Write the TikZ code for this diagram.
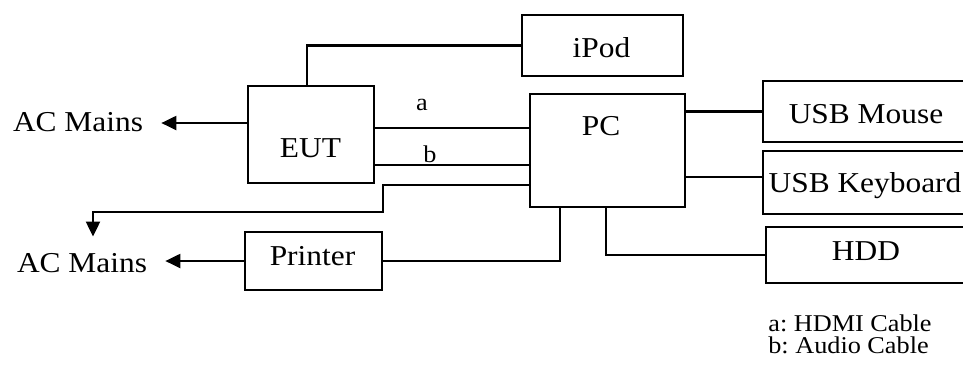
\documentclass[tikz,border=0pt]{standalone}
\usepackage{fontspec}
\setmainfont[FakeStretch=1.09]{Liberation Serif}
\usetikzlibrary{calc, positioning, arrows.meta}
\frenchspacing

\begin{document}
\begin{tikzpicture}
                      [x=0.02cm, y=-0.02cm, text centered,
                       font=\fontsize{16.4pt}{19pt}\selectfont,
                       box/.style={draw, line width=1.4pt, inner sep=0pt},
                       wire/.style={line width=1.2pt},
                       feed/.style={wire, -{Triangle[length=0.3cm, width=0.28cm]}},
                       tag/.style={anchor=base, inner sep=0pt},
                       mains/.style={anchor=base, inner xsep=0.36cm, inner ysep=0.32cm},
                       note/.style={anchor=base west, inner sep=0pt, font=\fontsize{13.7pt}{16pt}\selectfont}]
                      \useasboundingbox (0,0) rectangle (963,370);
                      \clip (0,0) rectangle (963,370);

                      % nodes %
                      \node[box, minimum width=2.52cm, minimum height=1.94cm] (eut) at (311,134.5) {};
                      \node[tag] (eutname) at (310.5,157) {EUT};
                      \node[box, minimum width=3.22cm, minimum height=1.22cm] (ipod) at (602.5,45.5) {};
                      \node[tag] (ipodname) at (601.5,57) {iPod};
                      \node[box, minimum width=3.10cm, minimum height=2.26cm] (pc) at (607.5,150.5) {};
                      \node[tag] (pcname) at (601,135) {PC};
                      \node[box, minimum width=4.14cm, minimum height=1.22cm] (mouse) at (866.5,111.5) {};
                      \node[tag] (mousename) at (866,123) {USB Mouse};
                      \node[box, minimum width=4.14cm, minimum height=1.26cm] (keyboard) at (866.5,182.5) {};
                      \node[tag] (keyboardname) at (865,192) {USB Keyboard};
                      \node[box, minimum width=4.08cm, minimum height=1.12cm] (hdd) at (868,255) {};
                      \node[tag] (hddname) at (866,260) {HDD};
                      \node[box, minimum width=2.74cm, minimum height=1.16cm] (printer) at (313.5,261) {};
                      \node[tag] (printername) at (312.5,265) {Printer};
                      \node[mains] (ac1) at (78,131) {AC Mains};
                      \node[mains] (ac2) at (82,272) {AC Mains};
                      \node[tag, font=\fontsize{13.7pt}{16pt}\selectfont] (cablea) at (422,110) {a};
                      \node[tag, font=\fontsize{13.7pt}{16pt}\selectfont] (cableb) at (430,162) {b};
                      \node[note] (legenda) at (768,331) {a: HDMI Cable};
                      \node[note] (legendb) at (768,353) {b: Audio Cable};

                      % edges %
                      \draw[feed] (eut.west |- 0,123) -- (ac1.east |- 0,123);
                      \draw[wire] (eut.north -| 307,0) |- (ipod.west);
                      \draw[wire] (eut.east |- 0,128) -- (pc.west |- 0,128);
                      \draw[wire] (eut.east |- 0,165) -- (pc.west |- 0,165);
                      \draw[feed] (pc.west |- 0,185) -| (383,212) -| (ac2.north -| 93,0);
                      \draw[feed] (printer.west) -- (ac2.east |- printer.west);
                      \draw[wire] (printer.east) -| (pc.south -| 560,0);
                      \draw[wire] (pc.south -| 606,0) |- (hdd.west);
                      \draw[wire] (pc.east |- mouse.west) -- (mouse.west);
                      \draw[wire] (pc.east |- 0,177) -- (keyboard.west |- 0,177);
                    \end{tikzpicture}
\end{document}
